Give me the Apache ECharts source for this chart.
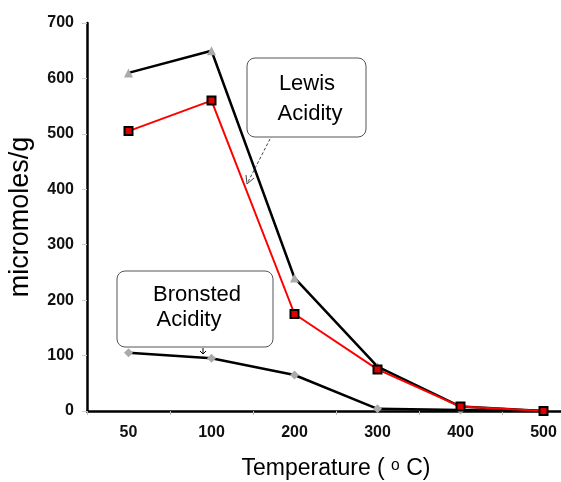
<!DOCTYPE html>
<html><head><meta charset="utf-8">
<script src="https://cdn.jsdelivr.net/npm/echarts@6/dist/echarts.min.js"></script>
<style>html,body{margin:0;padding:0;background:#fff}#c{width:561px;height:482px}</style>
</head><body><div id="c"></div>
<script>
const categories = ['50','100','200','300','400','500'];
const lewisTotal = [610, 650, 240, 80, 8, 0];
const lewisRed = [505, 560, 175, 75, 8, 0];
const bronsted = [105, 95, 65, 4, 2, 0];
const yTicks = [0, 700, 100];

const chart = echarts.init(document.getElementById('c'), null, {renderer:'canvas'});
const F = 'Liberation Sans, Arial, sans-serif';
chart.setOption({
  animation:false,
  backgroundColor:'#fff',
  grid:{left:87, top:23, width:498, height:388, containLabel:false, outerBoundsMode:'none'},
  xAxis:{type:'category', data:categories, boundaryGap:true,
    name:'Temperature ( \u1d52 C)', nameLocation:'middle', nameGap:46,
    nameTextStyle:{fontFamily:F, fontSize:23, color:'#000'},
    axisLine:{lineStyle:{color:'#000', width:2.5}},
    axisTick:{show:true, inside:false, length:4, lineStyle:{color:'#bbb'}},
    axisLabel:{fontFamily:F, fontWeight:'bold', fontSize:16, color:'#111', margin:14}},
  yAxis:{type:'value', min:yTicks[0], max:yTicks[1], interval:yTicks[2],
    name:'micromoles/g', nameLocation:'middle', nameGap:53, nameRotate:90,
    nameTextStyle:{fontFamily:F, fontSize:27, color:'#000'},
    axisLine:{show:true, lineStyle:{color:'#000', width:2.5}},
    axisTick:{show:true, length:5, lineStyle:{color:'#ccc'}},
    splitLine:{show:false},
    axisLabel:{fontFamily:F, fontWeight:'bold', fontSize:16, color:'#111', margin:13}},
  series:[
    {type:'line', data:lewisTotal, symbol:'triangle', symbolSize:9, z:3,
      lineStyle:{color:'#000', width:2.5}, itemStyle:{color:'#aaa'}},
    {type:'line', data:lewisRed, symbol:'rect', symbolSize:8, z:4,
      lineStyle:{color:'#f00', width:2}, itemStyle:{color:'#d00', borderColor:'#000', borderWidth:2}},
    {type:'line', data:bronsted, symbol:'diamond', symbolSize:9, z:3,
      lineStyle:{color:'#000', width:2.5}, itemStyle:{color:'#aaa'}}
  ],
  graphic:[
    {type:'rect', shape:{x:247, y:58, width:119, height:79, r:8}, style:{fill:'#fff', stroke:'#555', lineWidth:1}, z:10},
    {type:'text', style:{x:307, y:84, text:'Lewis', font:'22px '+F, fill:'#000', align:'center', verticalAlign:'middle'}, z:11},
    {type:'text', style:{x:310, y:114, text:'Acidity', font:'22px '+F, fill:'#000', align:'center', verticalAlign:'middle'}, z:11},
    {type:'line', shape:{x1:270, y1:139, x2:248, y2:182}, style:{stroke:'#444', lineWidth:1, lineDash:[3,2]}, z:11},
    {type:'polyline', shape:{points:[[246,175],[247,184],[254,178]]}, style:{stroke:'#444', lineWidth:1, fill:null}, z:11},
    {type:'rect', shape:{x:117, y:271, width:156, height:76, r:8}, style:{fill:'#fff', stroke:'#555', lineWidth:1}, z:10},
    {type:'text', style:{x:197, y:295, text:'Bronsted', font:'22px '+F, fill:'#000', align:'center', verticalAlign:'middle'}, z:11},
    {type:'text', style:{x:189, y:320, text:'Acidity', font:'22px '+F, fill:'#000', align:'center', verticalAlign:'middle'}, z:11},
    {type:'line', shape:{x1:203, y1:348, x2:203, y2:354}, style:{stroke:'#000', lineWidth:1}, z:11},
    {type:'polyline', shape:{points:[[200,351],[203,354],[206,351]]}, style:{stroke:'#000', lineWidth:1, fill:null}, z:11}
  ]
});
</script></body></html>
